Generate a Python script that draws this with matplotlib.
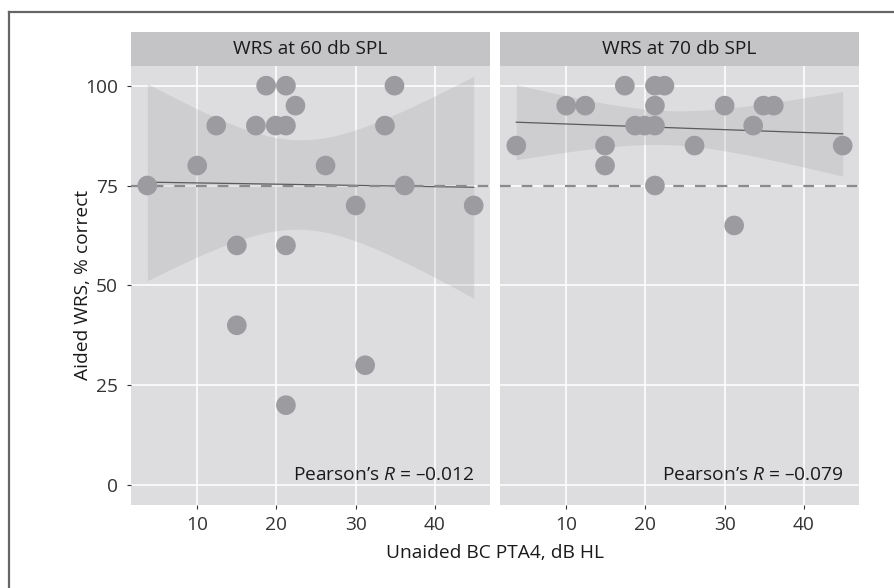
import numpy as np
import matplotlib
matplotlib.use("Agg")
import matplotlib.pyplot as plt
from matplotlib.lines import Line2D

plt.rcParams['font.family'] = ['Open Sans', 'DejaVu Sans']
plt.rcParams['mathtext.fontset'] = 'custom'
plt.rcParams['mathtext.rm'] = 'Open Sans'
plt.rcParams['mathtext.it'] = 'Open Sans:italic'
plt.rcParams['lines.scale_dashes'] = False

# ---------------- data ----------------
panel_titles = ["WRS at 60 db SPL", "WRS at 70 db SPL"]
pearson_labels = ["Pearson\u2019s $R$ = \u20130.012", "Pearson\u2019s $R$ = \u20130.079"]

pta_60 = [18.7, 21.2, 34.9, 22.4, 12.4, 17.4, 19.9, 21.2, 33.7, 10.0,
          26.2, 3.7, 36.2, 30.0, 44.9, 15.0, 21.2, 15.0, 31.2, 21.2]
wrs_60 = [100, 100, 100, 95, 90, 90, 90, 90, 90, 80,
          80, 75, 75, 70, 70, 60, 60, 40, 30, 20]

pta_70 = [17.4, 21.2, 22.4, 10.0, 12.4, 21.2, 30.0, 34.9, 36.2, 18.7,
          19.9, 21.2, 33.6, 3.7, 14.9, 26.2, 44.9, 14.9, 21.2, 31.2]
wrs_70 = [100, 100, 100, 95, 95, 95, 95, 95, 95, 90,
          90, 90, 90, 85, 85, 85, 85, 80, 75, 65]

reference_line = 75
x_ticks = [10, 20, 30, 40]
y_ticks = [0, 25, 50, 75, 100]
t_crit = 2.101  # t(0.975, df=18)

# ---------------- style ----------------
W, H = 895, 588
fig = plt.figure(figsize=(W / 100, H / 100), dpi=100)

panel_bg = '#dddde0'
strip_bg = '#c4c4c6'
point_col = '#9c9ca0'
txt_col = '#333333'
fs = 13.8

# frame around figure (open at right/bottom as in the reference crop)
fx, fy = 9.5 / W, 1 - 12 / H
fig.add_artist(Line2D([fx, fx], [0, fy], transform=fig.transFigure, color='#666666', lw=1.6))
fig.add_artist(Line2D([fx, 1.0], [fy, fy], transform=fig.transFigure, color='#666666', lw=1.6))

panel_left = [131 / W, 500 / W]
panel_w = 359 / W
ax_bottom = 1 - 505 / H
ax_h = (505 - 65.7) / H
strip_h = (65.7 - 32) / H

datasets = [(pta_60, wrs_60), (pta_70, wrs_70)]
for i, (xs, ys) in enumerate(datasets):
    x = np.asarray(xs, float)
    y = np.asarray(ys, float)
    ax = fig.add_axes([panel_left[i], ax_bottom, panel_w, ax_h])
    ax.set_facecolor(panel_bg)
    for s in ax.spines.values():
        s.set_visible(False)
    rng = x.max() - x.min()
    ax.set_xlim(x.min() - 0.05 * rng, x.max() + 0.05 * rng)
    ax.set_ylim(-5, 105)
    ax.set_xticks(x_ticks)
    ax.set_yticks(y_ticks)
    ax.grid(True, color='white', lw=1.1)
    ax.set_axisbelow(True)
    ax.tick_params(axis='both', colors=txt_col, labelcolor=txt_col, length=3, width=0.8,
                   labelsize=fs)
    ax.tick_params(axis='x', pad=5)
    ax.tick_params(axis='y', pad=6.5)
    if i == 1:
        ax.tick_params(axis='y', length=0, labelleft=False)

    # linear fit with 95% CI
    n = len(x)
    b, a = np.polyfit(x, y, 1)
    xx = np.linspace(x.min(), x.max(), 200)
    yy = a + b * xx
    resid = y - (a + b * x)
    s = np.sqrt(np.sum(resid ** 2) / (n - 2))
    se = s * np.sqrt(1 / n + (xx - x.mean()) ** 2 / np.sum((x - x.mean()) ** 2))
    ax.fill_between(xx, yy - t_crit * se, yy + t_crit * se, color='#999999', alpha=0.22,
                    lw=0, zorder=2)
    ax.plot(xx, yy, color='#5a5a5a', lw=0.9, zorder=3)
    ax.axhline(reference_line, color='#8a8a8c', lw=1.6, ls=(0, (7.7, 7.9)), zorder=3)
    ax.scatter(x, y, s=200, color=point_col, edgecolors='none', zorder=4)

    ax.text(1 - 15 / 359, (505 - 475.5) / 439.3, pearson_labels[i], transform=ax.transAxes,
            ha='right', va='center', fontsize=fs, color='#1a1a1a')

    # strip
    sax = fig.add_axes([panel_left[i], 1 - 65.7 / H, panel_w, strip_h])
    sax.set_facecolor(strip_bg)
    sax.set_xticks([])
    sax.set_yticks([])
    for sp in sax.spines.values():
        sp.set_visible(False)
    sax.text(0.5, 0.5, panel_titles[i], ha='center', va='center', fontsize=fs,
             color='#1a1a1a', transform=sax.transAxes)

fig.text(83 / W, 1 - 285 / H, "Aided WRS, % correct", rotation=90, ha='center', va='center',
         fontsize=fs, color='#1a1a1a')
fig.text(495 / W, 1 - 553 / H, "Unaided BC PTA4, dB HL", ha='center', va='center',
         fontsize=fs, color='#1a1a1a')

fig.savefig("out.png", dpi=100)
